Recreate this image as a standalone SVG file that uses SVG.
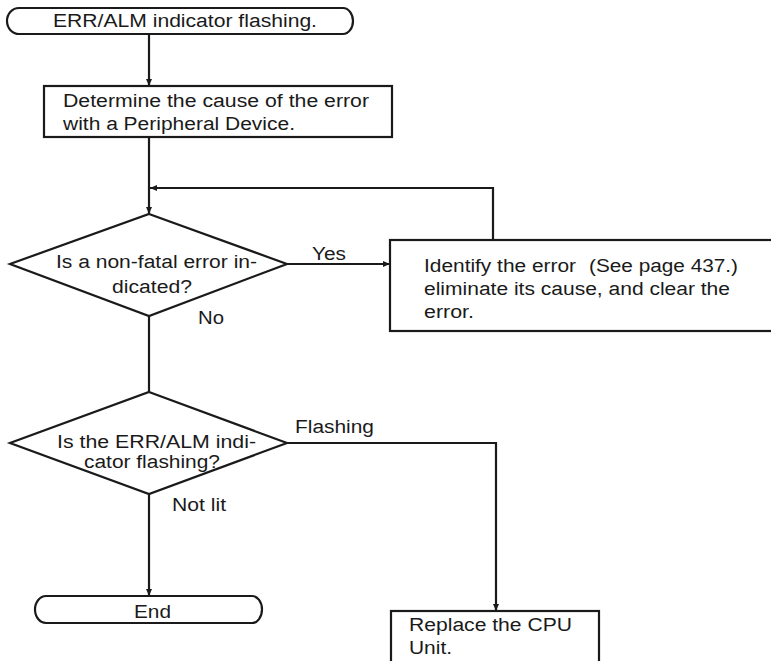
<svg xmlns="http://www.w3.org/2000/svg" width="771" height="661" viewBox="0 0 771 661">
<defs>
<style>
.shape{fill:#fff;stroke:#1a1a1a;stroke-width:2.2}
.line{fill:none;stroke:#1a1a1a;stroke-width:2.2}
text{font-family:"Liberation Sans",Arial,sans-serif;font-size:18px;fill:#1a1a1a}
.c{text-anchor:middle}
</style>
<marker id="ah" markerWidth="8" markerHeight="8" refX="7" refY="4" orient="auto" markerUnits="userSpaceOnUse">
<path d="M0,1 L7,4 L0,7 Z" fill="#1a1a1a"/>
</marker>
</defs>
<rect width="771" height="661" fill="#fff"/>
<g id="connectors">
<path class="line" d="M149,34 V86" marker-end="url(#ah)"/>
<path class="line" d="M149,137 V214" marker-end="url(#ah)"/>
<path class="line" d="M493,240 V188 H150" marker-end="url(#ah)"/>
<path class="line" d="M287,264 H390" marker-end="url(#ah)"/>
<path class="line" d="M149,316 V392"/>
<path class="line" d="M287,443 H496 V611" marker-end="url(#ah)"/>
<path class="line" d="M149,494 V596" marker-end="url(#ah)"/>
<text x="312" y="260" textLength="34" lengthAdjust="spacingAndGlyphs">Yes</text>
<text x="198" y="324" textLength="26" lengthAdjust="spacingAndGlyphs">No</text>
<text x="295" y="433" textLength="79" lengthAdjust="spacingAndGlyphs">Flashing</text>
<text x="172" y="511" textLength="54" lengthAdjust="spacingAndGlyphs">Not lit</text>
</g>
<g id="start">
<path class="shape" d="M19,8 H343 A10,13 0 0 1 343,34 H19 A12,13 0 0 1 19,8 Z"/>
<text x="53" y="27" textLength="264" lengthAdjust="spacingAndGlyphs">ERR/ALM indicator flashing.</text>
</g>
<g id="determine">
<rect class="shape" x="44" y="86" width="348" height="51"/>
<text x="63" y="107" textLength="306" lengthAdjust="spacingAndGlyphs">Determine the cause of the error</text>
<text x="63" y="129.5" textLength="232" lengthAdjust="spacingAndGlyphs">with a Peripheral Device.</text>
</g>
<g id="decision1">
<path class="shape" d="M149,214 L287,264 L149,316 L10,264 Z"/>
<text x="56" y="267.5" textLength="201" lengthAdjust="spacingAndGlyphs">Is a non-fatal error in-</text>
<text x="112" y="293" textLength="80" lengthAdjust="spacingAndGlyphs">dicated?</text>
</g>
<g id="identify">
<rect class="shape" x="390" y="240" width="383" height="91"/>
<text x="424" y="272" textLength="152" lengthAdjust="spacingAndGlyphs">Identify the error</text>
<text x="589" y="272" textLength="149" lengthAdjust="spacingAndGlyphs">(See page 437.)</text>
<text x="424" y="294.5" textLength="306" lengthAdjust="spacingAndGlyphs">eliminate its cause, and clear the</text>
<text x="424" y="318" textLength="50" lengthAdjust="spacingAndGlyphs">error.</text>
</g>
<g id="decision2">
<path class="shape" d="M149,392 L287,443 L149,494 L10,443 Z"/>
<text x="57" y="447.5" textLength="199" lengthAdjust="spacingAndGlyphs">Is the ERR/ALM indi-</text>
<text x="84" y="467.5" textLength="136" lengthAdjust="spacingAndGlyphs">cator flashing?</text>
</g>
<g id="end">
<path class="shape" d="M46,596 H252 A10,13.5 0 0 1 252,623 H46 A11,13.5 0 0 1 46,596 Z"/>
<text x="134" y="618" textLength="37" lengthAdjust="spacingAndGlyphs">End</text>
</g>
<g id="replace">
<rect class="shape" x="391" y="611" width="208" height="60"/>
<text x="409" y="630.5" textLength="163" lengthAdjust="spacingAndGlyphs">Replace the CPU</text>
<text x="409" y="654" textLength="43" lengthAdjust="spacingAndGlyphs">Unit.</text>
</g>
</svg>
